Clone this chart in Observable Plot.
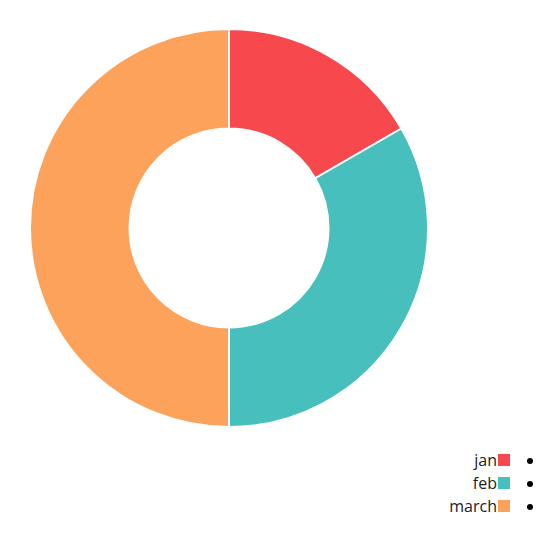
<!DOCTYPE html>
<html>
<head>
<meta charset="utf-8">
<script src="https://cdn.jsdelivr.net/npm/d3@7"></script>
<script src="https://cdn.jsdelivr.net/npm/@observablehq/plot@0.6"></script>
<style>
  html, body { margin: 0; padding: 0; background: #fff; }
  #wrap { position: relative; width: 554px; height: 539px; font-family: "Open Sans", "Noto Sans", sans-serif; }
  #chart { position: absolute; left: 0; top: 0; }
  #legend { position: absolute; left: 0; top: 449px; width: 554px; }
  .row { position: relative; height: 23px; }
  .lab { position: absolute; right: 57px; top: 0; font-size: 16px; line-height: 23px; color: #222; }
  .sw { position: absolute; left: 498px; top: 5px; width: 12px; height: 12px; }
  .bul { position: absolute; left: 527px; top: 9px; width: 6px; height: 6px; border-radius: 50%; background: #000; }
</style>
</head>
<body>
<div id="wrap"><div id="chart"></div><div id="legend"></div></div>
<script>
const categories = ["jan", "feb", "march"];
const values = [10, 20, 30];
const colors = ["#F7484E", "#46BFBD", "#FCA25B"];

const data = categories.map((c, i) => ({category: c, value: values[i]}));
const pie = d3.pie().sort(null).value(d => d.value)(data);

const donut = (index, scales, vals, dims, context) => {
  const x = scales.x, y = scales.y;
  const cx = x(0), cy = y(0);
  const R = Math.abs(x(1) - x(0));
  const r = R * 0.5;
  const arc = d3.arc().innerRadius(r).outerRadius(R);
  const g = d3.create("svg:g").attr("transform", `translate(${cx},${cy})`);
  g.selectAll("path").data(pie).join("path")
    .attr("d", arc)
    .attr("fill", d => scales.color(d.data.category))
    .attr("stroke", "#fff")
    .attr("stroke-width", 2);
  return g.node();
};

const chart = Plot.plot({
  width: 554,
  height: 440,
  marginLeft: 30,
  marginRight: 126,
  marginTop: 29,
  marginBottom: 13,
  x: {domain: [-1, 1], axis: null},
  y: {domain: [-1, 1], axis: null},
  color: {domain: categories, range: colors},
  marks: [donut]
});
document.getElementById("chart").appendChild(chart);

const legend = d3.select("#legend");
categories.forEach((c, i) => {
  const row = legend.append("div").attr("class", "row");
  row.append("span").attr("class", "lab").text(c);
  row.append("span").attr("class", "sw").style("background", colors[i]);
  row.append("span").attr("class", "bul");
});
</script>
</body>
</html>
